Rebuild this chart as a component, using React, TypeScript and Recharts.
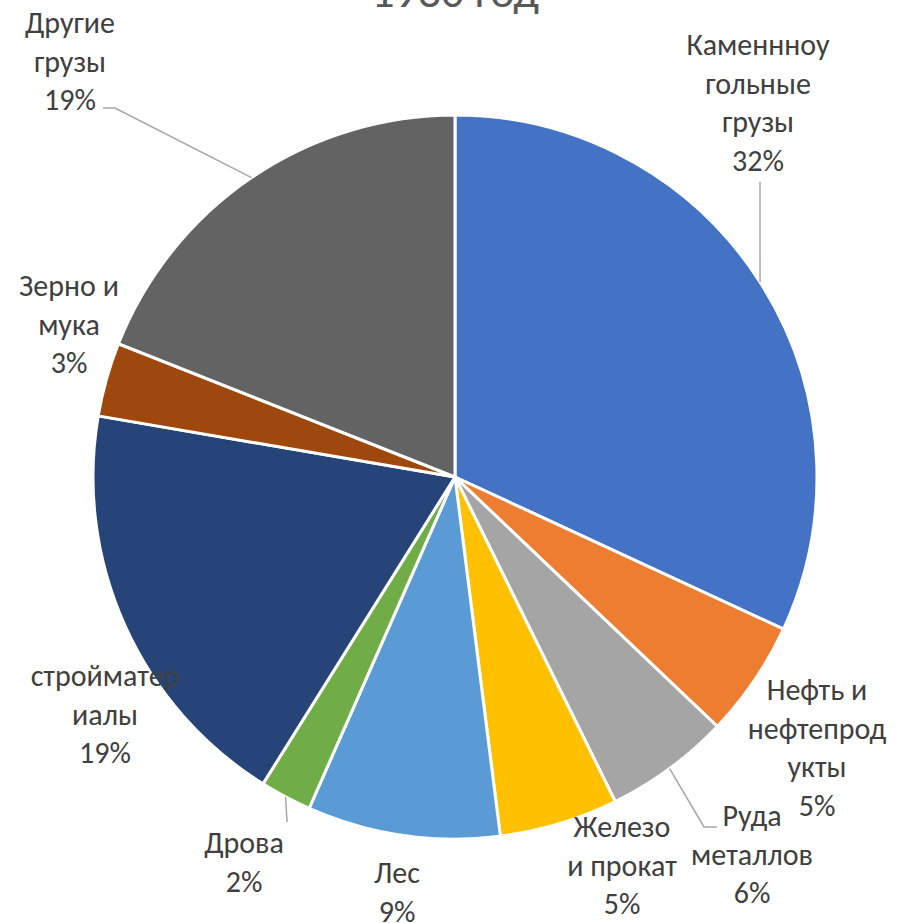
import { Pie, PieChart } from "recharts";

const categories = [
  "Каменнноу\nгольные\nгрузы",
  "Нефть и\nнефтепрод\nукты",
  "Руда\nметаллов",
  "Железо\nи прокат",
  "Лес",
  "Дрова",
  "стройматер\nиалы",
  "Зерно и\nмука",
  "Другие\nгрузы",
];
const shares = [31.9, 5.2, 5.6, 5.3, 8.6, 2.3, 18.8, 3.3, 19.0];
const colors = [
  "#4472C4", "#ED7D31", "#A5A5A5", "#FFC000", "#5B9BD5",
  "#70AD47", "#264478", "#9E480E", "#636363",
];
const title = "1930 год";

// label anchors relative to pie centre: first baseline, centred text; leader = label-side points
const labelLayout: Array<{ dx: number; dy: number; leader?: number[][] }> = [
  { dx: 303, dy: -422, leader: [[305, -295]] },
  { dx: 362, dy: 223 },
  { dx: 297, dy: 349, leader: [[249, 350], [262, 350]] },
  { dx: 167, dy: 360 },
  { dx: -58, dy: 406 },
  { dx: -211, dy: 376, leader: [[-168, 345]] },
  { dx: -350, dy: 209 },
  { dx: -386, dy: -181 },
  { dx: -385, dy: -444, leader: [[-340, -369], [-352, -369]] },
];

const data = categories.map((name, i) => ({ name, value: shares[i], fill: colors[i] }));

const FONT = "Calibri, Carlito, Lato, sans-serif";
const RAD = Math.PI / 180;

function renderLabel(props: any) {
  const { cx, cy, midAngle, outerRadius, percent, index, name } = props;
  const lay = labelLayout[index];
  const lines = [...String(name).split("\n"), `${Math.round(percent * 100)}%`];
  const x = cx + lay.dx;
  const y = cy + lay.dy;
  let leader = null;
  if (lay.leader) {
    const sx = cx + Math.cos(-midAngle * RAD) * outerRadius;
    const sy = cy + Math.sin(-midAngle * RAD) * outerRadius;
    const pts = [[sx, sy], ...lay.leader.map(([px, py]) => [cx + px, cy + py])];
    leader = (
      <polyline
        points={pts.map((p) => p.join(",")).join(" ")}
        fill="none"
        stroke="#A6A6A6"
        strokeWidth={1.5}
      />
    );
  }
  return (
    <g key={`lbl-${index}`}>
      {leader}
      <text x={x} y={y} textAnchor="middle" fill="#404040" fontSize={30} fontFamily={FONT}>
        {lines.map((ln, k) => (
          <tspan key={k} x={x} dy={k === 0 ? 0 : 38.5}>
            {ln}
          </tspan>
        ))}
      </text>
    </g>
  );
}

export default function App() {
  return (
    <div style={{ position: "absolute", left: 0, top: 0, width: 910, height: 923, background: "#fff" }}>
      <PieChart width={910} height={923} margin={{ top: 0, right: 0, bottom: 0, left: 0 }}>
        <text x={455} y={7} textAnchor="middle" fill="#595959" fontSize={46} fontFamily={FONT}>
          {title}
        </text>
        <Pie
          data={data}
          dataKey="value"
          nameKey="name"
          cx={455}
          cy={477}
          outerRadius={362}
          startAngle={90}
          endAngle={-270}
          stroke="#FFFFFF"
          strokeWidth={3}
          label={renderLabel}
          labelLine={false}
          isAnimationActive={false}
        />
      </PieChart>
    </div>
  );
}
